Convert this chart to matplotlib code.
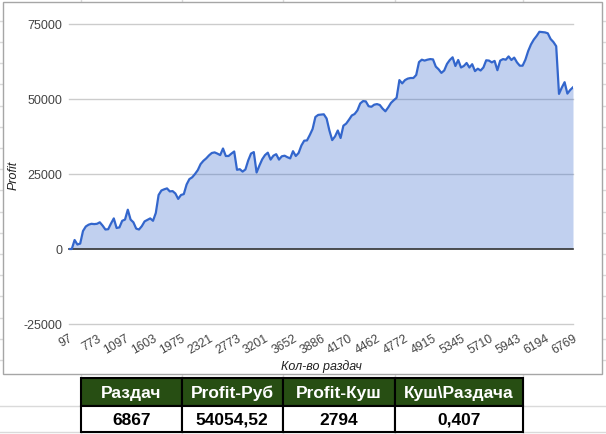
import matplotlib
matplotlib.use('Agg')
import matplotlib.pyplot as plt
from matplotlib.patches import Rectangle
import numpy as np

plt.rcParams['font.family'] = ['Liberation Sans', 'DejaVu Sans']

# profit curve, one value per category
profit = [
    0, 0, 3000, 1500, 1800, 6000, 7500, 8100, 8400, 8300,
    8400, 8900, 7800, 6500, 6600, 8500, 10200, 7000, 7200, 9400,
    9800, 13100, 9800, 8900, 6800, 6500, 7600, 9200, 9700, 10200,
    9400, 12000, 18000, 19500, 19900, 20200, 19200, 19300, 18500, 16700,
    18000, 18300, 21500, 23300, 23900, 25000, 26300, 28300, 29400, 30200,
    31200, 32000, 32200, 31800, 31300, 33500, 31000, 31000, 31800, 32500,
    26400, 26600, 25800, 26500, 29500, 31800, 32300, 25500, 27800, 29900,
    31300, 32100, 29800, 31100, 31600, 29800, 30900, 31100, 30600, 30200,
    32600, 31000, 32000, 34500, 36100, 36200, 38000, 40000, 44000, 44700,
    44800, 44900, 43500, 39500, 36300, 37500, 39500, 37000, 41100, 41800,
    43100, 44500, 45000, 46200, 48500, 49300, 49200, 47600, 47400, 48100,
    48300, 48000, 46800, 45900, 47200, 48700, 49600, 50400, 56300, 55200,
    56300, 56800, 57000, 57000, 58000, 62300, 63100, 62800, 63100, 63300,
    63200, 60800, 59900, 58700, 59500, 61700, 63000, 63900, 61000, 63000,
    60500, 61000, 62000, 60500, 61600, 59300, 60100, 59500, 60500, 62900,
    62800, 62200, 62700, 59600, 62800, 63300, 63100, 64200, 63000, 63800,
    62200, 61100, 61100, 63100, 66000, 68200, 69800, 71000, 72400, 72300,
    72200, 71900, 70000, 69000, 67600, 51700, 53800, 55600, 51800, 53000,
    53900,
]
tick_labels = ['97', '773', '1097', '1603', '1975', '2321', '2773', '3201',
               '3652', '3886', '4170', '4462', '4772', '4915', '5345', '5710',
               '5943', '6194', '6769']
y_ticks = [-25000, 0, 25000, 50000, 75000]

table_header = ['Раздач', 'Profit-Руб', 'Profit-Куш', 'Куш\\Раздача']
table_values = ['6867', '54054,52', '2794', '0,407']

W, H = 606, 435
fig = plt.figure(figsize=(W / 100, H / 100), dpi=100)

# spreadsheet background
bg = fig.add_axes([0, 0, 1, 1])
bg.set_xlim(0, W)
bg.set_ylim(H, 0)
bg.axis('off')
for xv in [81, 182, 283, 395, 523]:
    bg.axvline(xv, color='#dadada', lw=1, zorder=0)
for yv in list(np.arange(21.7, 375, 21.2)) + [407, 433]:
    bg.axhline(yv, color='#dadada', lw=1, zorder=0)
# chart frame
bg.add_patch(Rectangle((2.5, 3), 599, 372, facecolor='white',
                       edgecolor='#a6a6a6', lw=1, zorder=1))

# summary table
col_edges = [80.7, 181.7, 282.7, 395, 523.3]
for i in range(len(table_header)):
    x0, x1 = col_edges[i], col_edges[i + 1]
    bg.add_patch(Rectangle((x0, 379), x1 - x0, 28, facecolor='#274e13',
                           edgecolor='black', lw=1.5, zorder=2))
    bg.add_patch(Rectangle((x0, 407), x1 - x0, 26, facecolor='white',
                           edgecolor='black', lw=1.5, zorder=2))
    bg.text((x0 + x1) / 2, 393.5, table_header[i], color='white',
            fontsize=12.5, fontweight='bold', ha='center', va='center', zorder=3)
    bg.text((x0 + x1) / 2, 420.5, table_values[i], color='black',
            fontsize=12.5, fontweight='bold', ha='center', va='center', zorder=3)

# the chart itself
ax = fig.add_axes([69 / W, 1 - 325 / H, 504 / W, 300 / H])
ax.patch.set_alpha(0)
x = np.arange(len(profit))
for yv in y_ticks:
    if yv == 0:
        ax.axhline(yv, color='#333333', lw=1.2, zorder=3, clip_on=False)
    else:
        ax.axhline(yv, color='#cccccc', lw=1, zorder=1, clip_on=False)
ax.fill_between(x, profit, 0, color='#3366cc', alpha=0.3, lw=0, zorder=2)
ax.plot(x, profit, color='#3366cc', lw=1.6, zorder=4, solid_joinstyle='round')

ax.set_xlim(0, len(profit) - 1)
ax.set_ylim(-25000, 75000)
ax.set_yticks(y_ticks)
ax.set_yticklabels([str(v) for v in y_ticks], fontsize=9, color='#444444')
ax.set_xticks(np.linspace(0, len(profit) - 1, len(tick_labels)))
ax.set_xticklabels(tick_labels, fontsize=8.8, color='#444444')
plt.setp(ax.get_xticklabels(), rotation=30, ha='right', rotation_mode='anchor')
ax.tick_params(axis='y', length=0, pad=5)
ax.tick_params(axis='x', length=0, pad=5.5)
for s in ax.spines.values():
    s.set_visible(False)

fig.text(14 / W, 1 - 175 / H, 'Profit', rotation=90, fontsize=9,
         style='italic', color='#222222', ha='center', va='center')
fig.text(321 / W, 1 - 367 / H, 'Кол-во раздач', fontsize=9,
         style='italic', color='#222222', ha='center', va='center')

fig.savefig('out.png', dpi=100)
